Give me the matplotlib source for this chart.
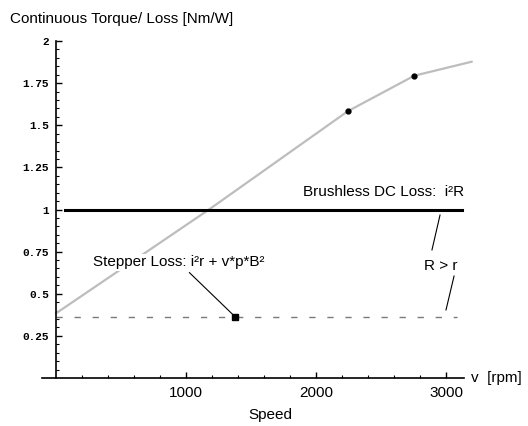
import numpy as np
import matplotlib.pyplot as plt
from matplotlib.ticker import FixedLocator

# speed [rpm] vs continuous torque / loss
speed = [0, 1177, 2244, 2756, 3197]
torque = [0.384, 1.0, 1.583, 1.794, 1.877]
dot_speed = [2244, 2756]
dot_torque = [1.583, 1.794]

bldc_speed = [70, 3123]
bldc_loss = [1.0, 1.0]
stepper_speed = [0, 3085]
stepper_loss = [0.364, 0.364]
stepper_mark = (1377, 0.364)

yticks = [0.25, 0.5, 0.75, 1, 1.25, 1.5, 1.75, 2]
ylabels = ['0.25', '0.5', '0.75', '1', '1.25', '1.5', '1.75', '2']
xticks = [1000, 2000, 3000]

plt.rcParams['font.family'] = ['Liberation Sans', 'DejaVu Sans']

W, H = 528, 426
fig = plt.figure(figsize=(W / 100, H / 100), dpi=100)
ax = fig.add_axes([42 / W, (H - 378) / H, 430 / W, 337 / H])
ax.set_xlim(-108, 3200)
ax.set_ylim(0, 2)

ax.plot(speed, torque, color='#bdbdbd', lw=1.6, clip_on=False, zorder=2)
ax.plot(dot_speed, dot_torque, 'o', color='black', ms=3.5, zorder=3)
ax.plot(bldc_speed, bldc_loss, color='black', lw=2.2, zorder=2)
ax.plot(stepper_speed, stepper_loss, color='#7a7a7a', lw=1.0,
        dashes=(4.5, 8.5), zorder=2)
ax.plot(*stepper_mark, 's', color='black', ms=5, zorder=4)

ax.annotate('Stepper Loss: i²r + v*p*B²', xy=stepper_mark, xytext=(942, 0.688),
            ha='center', va='center', fontsize=11,
            bbox=dict(boxstyle='square,pad=0.1', fc='white', ec='none'),
            arrowprops=dict(arrowstyle='-', color='black', lw=0.8,
                            shrinkA=2, shrinkB=0), zorder=5)
ax.text(2523, 1.104, 'Brushless DC Loss:  i²R', ha='center', va='center',
        fontsize=11)
ax.text(2962, 0.665, 'R > r', ha='center', va='center', fontsize=11)
ax.plot([2954, 2892], [0.967, 0.760], color='black', lw=0.8)
ax.plot([3062, 3000], [0.605, 0.404], color='black', lw=0.8)

# mathematica-style axes
for s in ['top', 'right']:
    ax.spines[s].set_visible(False)
ax.spines['left'].set_position(('data', 0))
ax.spines['bottom'].set_bounds(-108, 3138)
ax.spines['left'].set_linewidth(1.2)
ax.spines['bottom'].set_linewidth(1.2)

ax.xaxis.set_major_locator(FixedLocator(xticks))
ax.xaxis.set_minor_locator(FixedLocator([v for v in range(200, 3001, 200) if v % 1000]))
ax.yaxis.set_major_locator(FixedLocator(yticks))
ax.yaxis.set_minor_locator(FixedLocator(np.arange(0.05, 2.0, 0.05)))
ax.set_yticklabels(ylabels, family='Liberation Mono', fontweight='bold', fontsize=8)
ax.set_xticklabels([str(v) for v in xticks], fontsize=11)
ax.tick_params(which='major', direction='in', length=4, width=1)
ax.tick_params(which='minor', direction='in', length=2.3, width=0.8)
ax.tick_params(axis='x', pad=6)
ax.tick_params(axis='y', pad=5)

fig.text(10 / W, 1 - 19 / H, 'Continuous Torque/ Loss [Nm/W]', fontsize=11,
         va='center', ha='left')
fig.text(270 / W, 1 - 415 / H, 'Speed', fontsize=11, va='center', ha='center')
fig.text(471 / W, 1 - 378 / H, 'v  [rpm]', fontsize=11, va='center', ha='left')

fig.savefig('out.png', dpi=100)
